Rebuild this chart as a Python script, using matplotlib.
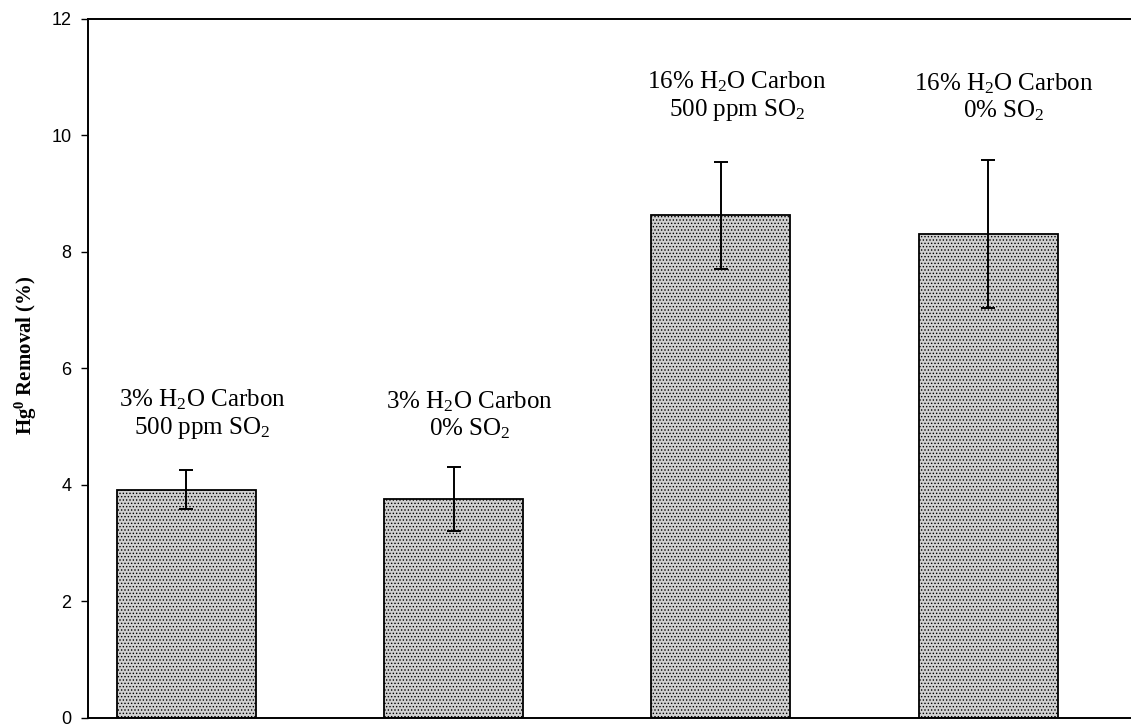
import numpy as np
import matplotlib
matplotlib.use('Agg')
import matplotlib.pyplot as plt

plt.rcParams['mathtext.fontset'] = 'custom'
plt.rcParams['mathtext.rm'] = 'Liberation Serif'
plt.rcParams['mathtext.it'] = 'Liberation Serif:italic'
plt.rcParams['mathtext.bf'] = 'Liberation Serif:bold'
plt.rcParams['hatch.color'] = '#7a7a7a'
plt.rcParams['hatch.linewidth'] = 0.6

# data
labels = [r'3% H$_2$O Carbon' + '\n' + r'500 ppm SO$_2$',
          r'3% H$_2$O Carbon' + '\n' + r'0% SO$_2$',
          r'16% H$_2$O Carbon' + '\n' + r'500 ppm SO$_2$',
          r'16% H$_2$O Carbon' + '\n' + r'0% SO$_2$']
removal = [3.92, 3.76, 8.63, 8.30]
err = [0.33, 0.55, 0.92, 1.27]
label_y = [4.75, 4.75, 10.21, 10.21]

x = np.arange(len(removal))

fig = plt.figure(figsize=(11.31, 7.25), dpi=100)
ax = fig.add_axes([0.078, 0.0097, 0.922, 0.9643])

ax.bar(x, removal, width=0.52, color='#d0d0d0', edgecolor='black',
       linewidth=1.3, hatch='.....', zorder=2)
ax.errorbar(x, removal, yerr=err, fmt='none', ecolor='black',
            elinewidth=1.4, capsize=5, capthick=1.4, zorder=3)

for xi, yi, lab in zip(x, label_y, labels):
    ax.text(xi + 0.06, yi, lab, ha='center', va='bottom', fontsize=18,
            family='Liberation Serif', linespacing=1.15)

ax.set_xlim(-0.367, 3.535)
ax.set_ylim(0, 12)
ax.set_yticks([0, 2, 4, 6, 8, 10, 12])
ax.set_xticks([])
ax.tick_params(axis='y', direction='out', length=5, width=1,
               labelsize=13, pad=7)
for t in ax.get_yticklabels():
    t.set_family('Liberation Sans')

ax.spines['right'].set_visible(False)
for s in ['left', 'top', 'bottom']:
    ax.spines[s].set_linewidth(1.4)

ax.set_ylabel(r'Hg$^{\mathbf{0}}$ Removal (%)', fontsize=15,
              fontweight='bold', family='Liberation Serif')
ax.yaxis.set_label_coords(-0.047, 0.519)

fig.savefig('out.png', dpi=100)
